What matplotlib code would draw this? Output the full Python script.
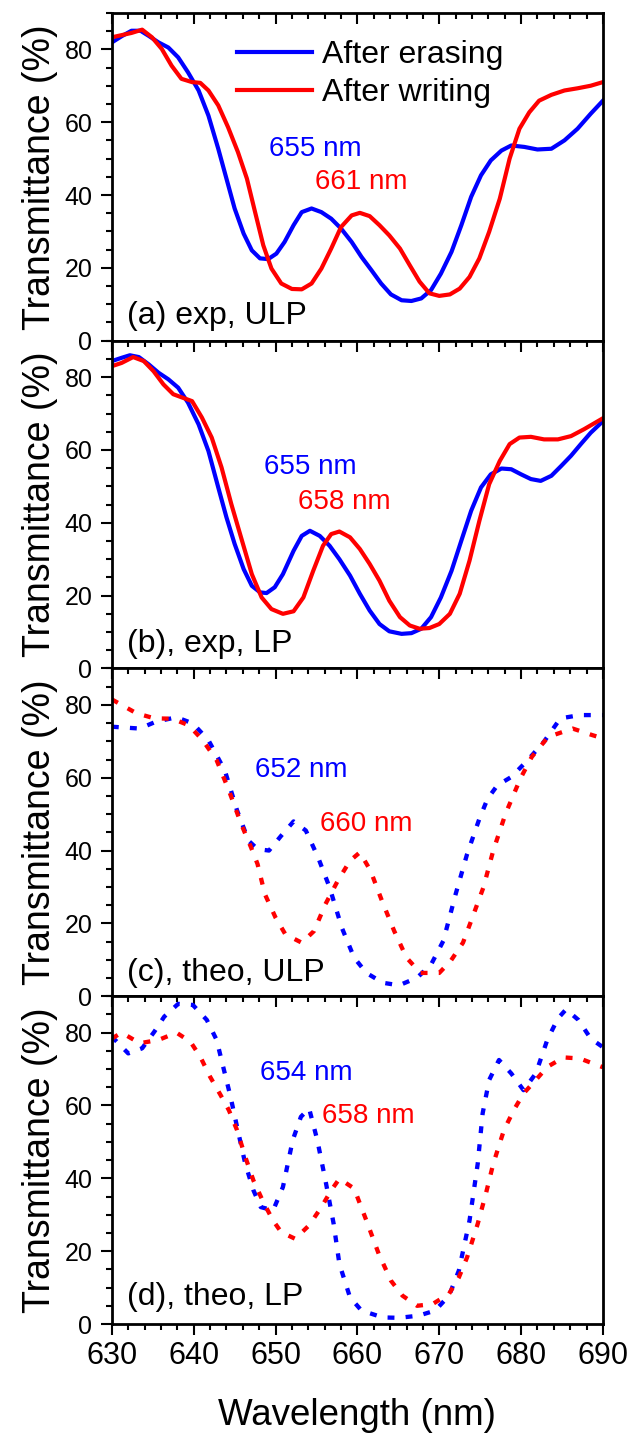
import matplotlib.pyplot as plt
from matplotlib.ticker import MultipleLocator

plt.rcParams['font.family'] = ['Liberation Sans', 'DejaVu Sans']

BLUE = '#0000ff'
RED = '#ff0000'

# (a) experiment, ULP
a_erase_x = [630, 631.2, 632.4, 633.5, 634.5, 635.7, 636.9, 638.1, 639.3, 640.6, 641.8, 643,
             644, 645, 646.1, 647.1, 648.1, 649.1, 650.1, 651.1, 652.2, 653.2, 654.4, 655.6,
             656.8, 658, 659.3, 660.5, 661.7, 662.9, 664.1, 665.4, 666.6, 667.8, 669, 670.2,
             671.5, 672.7, 673.9, 675.1, 676.3, 677.6, 678.8, 680.4, 682, 683.7, 685.3, 686.9,
             688.5, 690]
a_erase_y = [81.9, 83.6, 85.1, 85.1, 83.7, 81.9, 80.5, 77.8, 73.7, 68.7, 61.8, 52.7,
             44.5, 36.3, 29.4, 24.8, 22.6, 22.4, 23.9, 27.1, 31.7, 35.3, 36.3, 35.3,
             33.5, 30.8, 27.1, 23, 19.4, 15.7, 12.7, 11.1, 10.9, 11.6, 13.9, 18.4,
             24.4, 31.7, 39.5, 45.4, 49.5, 52.2, 53.6, 53.2, 52.5, 52.7, 55, 58.2,
             62.3, 65.9]
a_write_x = [630, 631.2, 632.4, 633.7, 634.9, 636.1, 637.3, 638.5, 639.8, 640.8, 641.8, 643,
             644.2, 645.4, 646.5, 647.5, 648.5, 649.5, 650.7, 652, 653.2, 654.4, 655.6, 656.8,
             658, 659.3, 660.3, 661.5, 662.7, 663.9, 665.2, 666.4, 667.6, 668.8, 670, 671.3,
             672.5, 673.7, 674.9, 676.1, 677.4, 678.6, 679.8, 681, 682.2, 683.7, 685.3, 686.9,
             688.5, 690]
a_write_y = [83.3, 83.9, 84.5, 85.4, 83.3, 80.1, 75.5, 71.9, 71, 70.8, 68.7, 64.6,
             58.6, 51.8, 44.5, 35.3, 26.2, 19.8, 15.7, 14.2, 14.1, 15.7, 19.8, 25.3,
             31.2, 34.4, 35.1, 34.2, 31.7, 28.9, 25.3, 20.7, 16.2, 13, 12.3, 12.7,
             14.3, 17.5, 22.6, 29.9, 39, 50, 58.2, 62.7, 65.9, 67.5, 68.7, 69.3,
             70, 71]

# (b) experiment, LP
b_erase_x = [630, 631.2, 632.2, 633.3, 634.5, 635.7, 636.9, 638.1, 639.3, 640.6, 641.8, 643,
             644, 645, 646.1, 647.1, 648.1, 648.9, 649.9, 650.9, 652.2, 653.2, 654.2, 655.4,
             656.6, 657.8, 659.1, 660.3, 661.5, 662.7, 663.9, 665.4, 666.6, 667.8, 669, 670.2,
             671.5, 672.7, 673.9, 675.1, 676.3, 677.6, 678.8, 680, 681.2, 682.4, 683.7, 684.9,
             686.1, 687.3, 688.5, 690]
b_erase_y = [84.4, 85.3, 86, 85.5, 83.5, 81.2, 79.4, 77.1, 73, 67, 59.7, 49.7,
             41.5, 34.2, 27.3, 22.7, 20.9, 20.7, 22.3, 25.9, 32.3, 36.4, 37.8, 36.4,
             33.7, 30, 25.5, 20.5, 15.9, 12.2, 10.2, 9.5, 9.7, 10.9, 14.1, 19.5,
             26.8, 35.1, 43.3, 49.7, 53.3, 54.9, 54.7, 53.3, 52, 51.5, 52.9, 55.6,
             58.4, 61.6, 64.7, 67.9]
b_write_x = [630, 631.2, 632.6, 633.9, 635.1, 636.3, 637.5, 638.7, 639.8, 641, 642.2, 643.4,
             644.6, 645.9, 647.1, 648.3, 649.5, 650.9, 652.2, 653.4, 654.6, 655.8, 656.8, 657.8,
             659.1, 660.3, 661.5, 662.7, 663.9, 665.2, 666.4, 667.6, 668.8, 670, 671.3, 672.5,
             673.7, 674.9, 676.1, 677.4, 678.6, 679.8, 681.2, 682.8, 684.5, 686.1, 687.7, 690]
b_write_y = [83, 83.9, 85.5, 84.4, 81.6, 78, 75.3, 74.3, 73.4, 68.9, 63.4, 55.2,
             45.1, 35.1, 25.9, 19.5, 16.3, 15, 15.7, 19.5, 26.8, 33.7, 36.9, 37.6,
             36, 32.8, 28.7, 24.1, 18.6, 14.1, 11.8, 10.9, 11.1, 12.2, 15, 20.5,
             29.6, 40.5, 50.6, 57, 61.6, 63.4, 63.6, 62.9, 62.9, 63.8, 65.7, 68.7]

# (c) theory, ULP
c_erase_x = [630, 633.4, 635.4, 637.9, 639.9, 641.8, 643.8, 645.3, 646.7, 647.8, 649.2, 650.7,
             652.2, 653.7, 655.2, 656.6, 658.1, 659.6, 661.1, 663.1, 665.1, 667.3, 669, 670.5,
             672, 673.4, 674.9, 675.9, 677.1, 678.8, 680.8, 682.8, 684.8, 687.2, 690]
c_erase_y = [74, 73.5, 75.4, 76.6, 74.9, 70.3, 62, 51, 42.7, 40.4, 40, 44.1,
             48, 45.5, 38.1, 29.9, 18.8, 10.6, 6.4, 3.7, 3.0, 5.1, 8.7, 15.2,
             28, 39, 48.7, 54.2, 57.9, 60.2, 64.8, 69.9, 76.3, 77.2, 77.2]
c_write_x = [630, 633, 635.2, 637.4, 639.4, 641.1, 642.8, 644.3, 645.8, 647, 647.8, 648.7,
             650, 651.2, 653.2, 654.7, 656.1, 657.6, 659.1, 660.3, 661.6, 663, 664.5, 666,
             667.7, 670, 671.4, 672.9, 673.9, 675.4, 676.6, 678.1, 679.9, 681.3, 683.3, 686.3,
             688.7, 690]
c_write_y = [81.5, 77.7, 76.3, 76.2, 74.4, 70.3, 64.8, 56.5, 47.3, 40.9, 36.3, 28,
             21.6, 17, 14.7, 17.9, 25.3, 31.7, 37.2, 39.5, 34.5, 26.2, 17.9, 10.6,
             6.4, 6.4, 9.7, 14.7, 20.7, 29.9, 40, 50.1, 59.7, 65.7, 71.2, 73.5,
             71.7, 70.8]

# (d) theory, LP
d_erase_x = [630, 632, 633.7, 635.2, 636.4, 638.1, 639.9, 641.6, 642.8, 643.8, 644.5, 645.3,
             646.3, 647.3, 648.2, 649.7, 650.9, 652.1, 653.1, 654.1, 655.1, 656.1, 657.1, 657.8,
             659.1, 660.5, 663.1, 665.1, 667.5, 669.5, 671.2, 672.4, 673.7, 674.7, 675.3, 676.1,
             677.3, 678.8, 680.3, 681.8, 683.2, 684.5, 685.5, 687, 688.5, 690]
d_erase_y = [78.9, 74.3, 75.7, 80.3, 84.4, 87.9, 87.6, 83.5, 78, 68.8, 62.4, 54.1,
             44, 36.7, 32.1, 31.2, 37.6, 50.5, 56.9, 59.2, 50.5, 39.4, 27.5, 16.5,
             7.3, 3.7, 1.8, 1.7, 2.3, 3.7, 7.8, 14.7, 28.4, 44, 57.8, 67,
             72.5, 68.8, 64.2, 68.8, 78, 83.9, 86.4, 83.5, 78.4, 76]
d_write_x = [630, 631.2, 633.4, 635.7, 637.9, 639.6, 640.8, 642, 643.3, 644.3, 645.3, 646.3,
             647.3, 648.5, 649.7, 650.7, 652.4, 654.1, 655.6, 656.8, 657.8, 659.6, 661.1, 662.6,
             664.1, 665.5, 667.3, 669.2, 671.2, 672.4, 673.4, 674.7, 675.7, 676.6, 677.9, 679.1,
             680.3, 681.8, 683.2, 685.2, 687.2, 688.7, 690]
d_write_y = [78.4, 80, 77.1, 78, 80, 77.5, 73.4, 67.9, 62.8, 58.7, 53.2, 45.9,
             39.4, 33.5, 28.4, 25.2, 23.4, 27.1, 32.1, 36.7, 39.9, 37.2, 28.4, 19.3,
             11.9, 7.8, 5, 5.5, 8.3, 12.8, 18.3, 27.5, 35.8, 44, 53.2, 58.7,
             63.3, 67, 70.6, 73.2, 72.9, 71.6, 70.5]

panel_labels = ['(a) exp, ULP', '(b), exp, LP', '(c), theo, ULP', '(d), theo, LP']
peak_labels = [('655 nm', '661 nm'), ('655 nm', '658 nm'), ('652 nm', '660 nm'), ('654 nm', '658 nm')]
peak_pos = [((654.9, 52.7), (660.5, 43.6)), ((654.2, 55.2), (658.4, 45.8)),
            ((653.2, 62.0), (661.1, 47.3)), ((653.7, 68.8), (661.3, 57.1))]
label_y = [0.052, 0.049, 0.046, 0.058]

series = [(a_erase_x, a_erase_y, a_write_x, a_write_y),
          (b_erase_x, b_erase_y, b_write_x, b_write_y),
          (c_erase_x, c_erase_y, c_write_x, c_write_y),
          (d_erase_x, d_erase_y, d_write_x, d_write_y)]

fig, axes = plt.subplots(4, 1, sharex=True, figsize=(6.32, 14.34), dpi=100)
fig.subplots_adjust(left=0.177, right=0.954, top=0.991, bottom=0.0767, hspace=0)

dots = (0, (1.6, 2.6))
for i, ax in enumerate(axes):
    ex, ey, wx, wy = series[i]
    if i < 2:
        ax.plot(ex, ey, color=BLUE, lw=3, label='After erasing')
        ax.plot(wx, wy, color=RED, lw=3, label='After writing')
    else:
        ax.plot(ex, ey, color=BLUE, lw=3.1, ls=dots)
        ax.plot(wx, wy, color=RED, lw=3.1, ls=dots)

    (t1, t2), (p1, p2) = peak_labels[i], peak_pos[i]
    ax.text(p1[0], p1[1], t1, color=BLUE, fontsize=20, ha='center', va='center')
    ax.text(p2[0], p2[1], t2, color=RED, fontsize=20, ha='center', va='center')
    ax.text(0.03, label_y[i], panel_labels[i], transform=ax.transAxes,
            fontsize=23, ha='left', va='baseline')

    ax.set_xlim(630, 690)
    ax.set_ylim(0, 90)
    ax.xaxis.set_major_locator(MultipleLocator(10))
    ax.xaxis.set_minor_locator(MultipleLocator(2))
    ax.yaxis.set_major_locator(MultipleLocator(20))
    ax.yaxis.set_minor_locator(MultipleLocator(5))
    ax.tick_params(axis='y', which='both', direction='out', left=True, right=False,
                   labelsize=18, width=1.5, pad=6)
    ax.tick_params(axis='y', which='major', length=8)
    ax.tick_params(axis='y', which='minor', length=4)
    ax.tick_params(axis='x', which='both', top=True, bottom=True, direction='out',
                   labelsize=22, width=1.5, pad=4)
    ax.tick_params(axis='x', which='major', length=8)
    ax.tick_params(axis='x', which='minor', length=4.5)
    for s in ax.spines.values():
        s.set_linewidth(2)
    ax.set_ylabel('Transmittance (%)', fontsize=27)
    ax.yaxis.set_label_coords(-0.11, 0.5)

# top ticks point into each panel
for ax in axes:
    for t in ax.xaxis.get_major_ticks() + ax.xaxis.get_minor_ticks():
        t.tick2line.set_marker(3)

axes[0].legend(loc='upper left', bbox_to_anchor=(0.254, 0.918), frameon=False,
               fontsize=23, handlelength=2.35, handletextpad=0.33, labelspacing=0.25,
               borderpad=0, borderaxespad=0)

axes[3].set_xlabel('Wavelength (nm)', fontsize=26.5, labelpad=20)

plt.savefig('out.png', dpi=100)
